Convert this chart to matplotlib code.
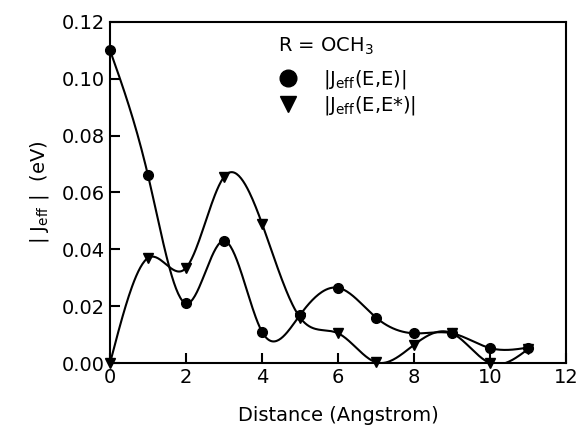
import matplotlib
matplotlib.use("Agg")
import matplotlib.pyplot as plt
import numpy as np

distance = [0, 1, 2, 3, 4, 5, 6, 7, 8, 9, 10, 11]
j_ee = [0.110, 0.066, 0.021, 0.043, 0.011, 0.017, 0.0265, 0.016, 0.0105, 0.0105, 0.0053, 0.0055]
j_ees = [0.0, 0.037, 0.0335, 0.0655, 0.049, 0.016, 0.0105, 0.0003, 0.0065, 0.0105, 0.0, 0.005]


def natural_spline(x, y, n=400):
    # natural cubic spline, only used to draw the smooth line
    x = np.asarray(x, float)
    y = np.asarray(y, float)
    h = np.diff(x)
    m = len(x)
    A = np.zeros((m, m))
    b = np.zeros(m)
    A[0, 0] = A[-1, -1] = 1
    for i in range(1, m - 1):
        A[i, i - 1] = h[i - 1]
        A[i, i] = 2 * (h[i - 1] + h[i])
        A[i, i + 1] = h[i]
        b[i] = 6 * ((y[i + 1] - y[i]) / h[i] - (y[i] - y[i - 1]) / h[i - 1])
    M = np.linalg.solve(A, b)
    xs = np.linspace(x[0], x[-1], n)
    idx = np.clip(np.searchsorted(x, xs) - 1, 0, m - 2)
    x0, x1 = x[idx], x[idx + 1]
    hh = x1 - x0
    t0 = x1 - xs
    t1 = xs - x0
    ys = (M[idx] * t0 ** 3 / (6 * hh) + M[idx + 1] * t1 ** 3 / (6 * hh)
          + (y[idx] / hh - M[idx] * hh / 6) * t0
          + (y[idx + 1] / hh - M[idx + 1] * hh / 6) * t1)
    return xs, ys


plt.rcParams['font.family'] = 'DejaVu Sans'
fig, ax = plt.subplots(figsize=(5.82, 4.36), dpi=100)
fig.subplots_adjust(left=0.189, right=0.973, top=0.95, bottom=0.167)

for ys, mk in [(j_ee, 'o'), (j_ees, 'v')]:
    sx, sy = natural_spline(distance, ys)
    ax.plot(sx, sy, color='black', lw=1.5, clip_on=True)
    ax.plot(distance, ys, mk, color='black', ms=7, clip_on=False)

h1, = ax.plot([], [], 'o', color='black', ms=12)
h2, = ax.plot([], [], 'v', color='black', ms=12)
leg = ax.legend([h1, h2], [r'|J$_{\mathrm{eff}}$(E,E)|', r'|J$_{\mathrm{eff}}$(E,E*)|'],
                title=r'R = OCH$_3$', frameon=False, loc='upper left',
                bbox_to_anchor=(0.33, 1.01), fontsize=14, title_fontsize=14,
                handlelength=1.0, handletextpad=1.3, labelspacing=0.15)
leg._legend_box.align = 'left'
leg._legend_box.sep = 8

ax.set_xlim(0, 12)
ax.set_ylim(0, 0.12)
ax.set_xticks(range(0, 13, 2))
ax.set_yticks(np.arange(0, 0.121, 0.02))
ax.set_yticklabels(['%.2f' % v for v in np.arange(0, 0.121, 0.02)])
ax.tick_params(direction='in', length=7, width=1.5, labelsize=14, top=False, right=False)
for s in ax.spines.values():
    s.set_linewidth(1.5)

ax.set_xlabel('Distance (Angstrom)', fontsize=14, labelpad=14)
ax.set_ylabel(r'| J$_{\mathrm{eff}}$ |  (eV)', fontsize=14, labelpad=8)

fig.savefig('out.png', dpi=100)
